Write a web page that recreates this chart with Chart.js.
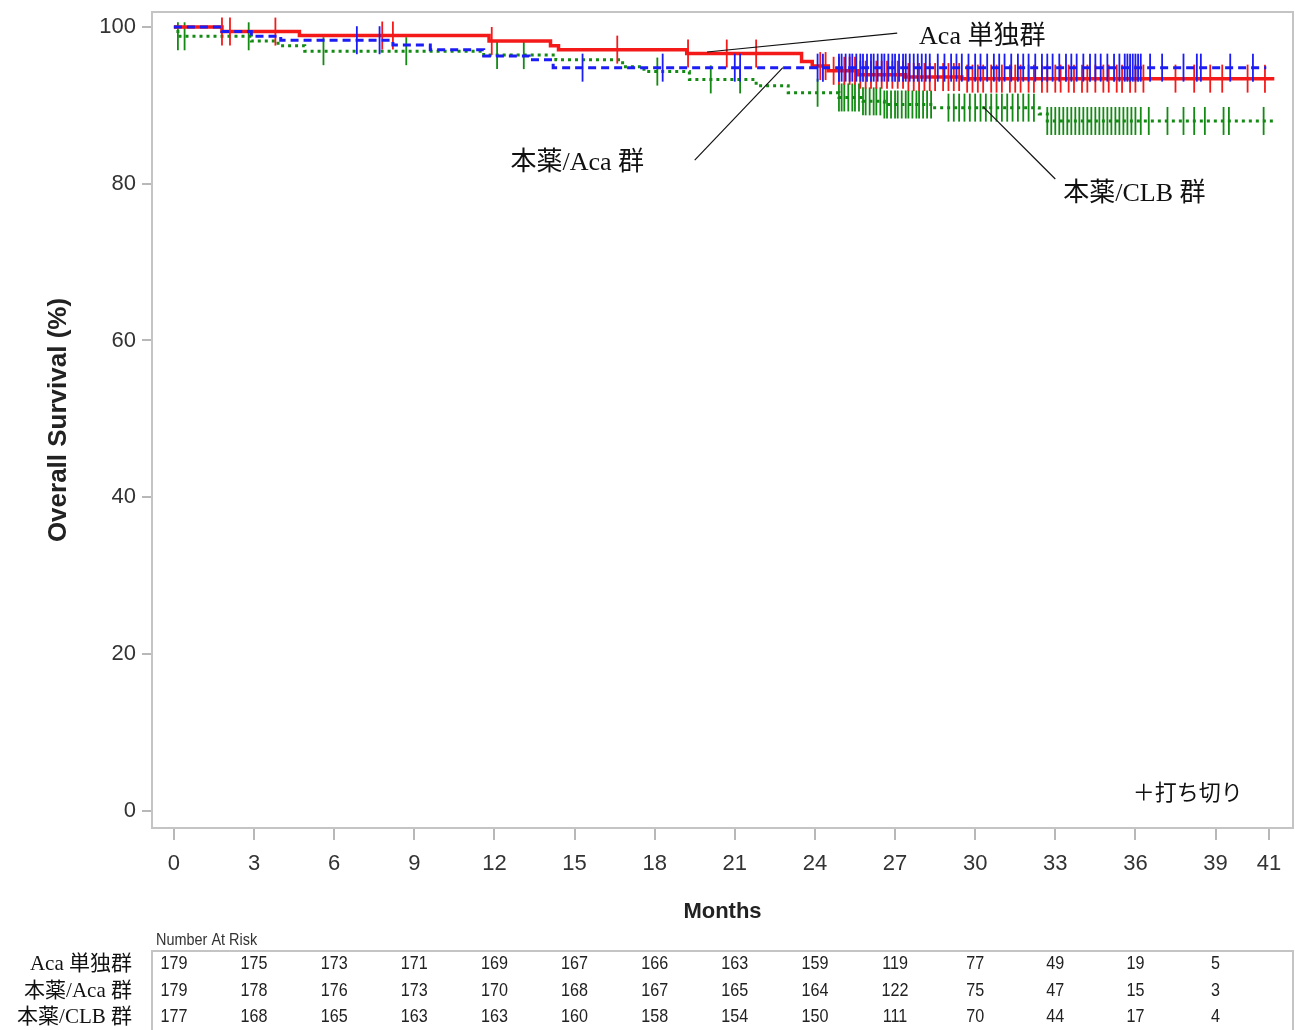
<!DOCTYPE html>
<html>
<head>
<meta charset="utf-8">
<script src="https://cdn.jsdelivr.net/npm/chart.js@4.4.1/dist/chart.umd.min.js"></script>
<style>
  html,body{margin:0;padding:0;background:#fff;overflow:hidden}
  #wrap{width:1295px;height:1030px;position:relative}
</style>
</head>
<body>
<div id="wrap"><canvas id="km"></canvas></div>
<script>
// --- données ---
const monthTicks = [0,3,6,9,12,15,18,21,24,27,30,33,36,39,41];
const survTicks = [0,20,40,60,80,100];
const riskMonths = [0,3,6,9,12,15,18,21,24,27,30,33,36,39];
const groupNames = ['Aca 単独群','本薬/Aca 群','本薬/CLB 群'];

const riskAca   = [179,175,173,171,169,167,166,163,159,119,77,49,19,5];
const riskCombo = [179,178,176,173,170,168,167,165,164,122,75,47,15,3];
const riskClb   = [177,168,165,163,163,160,158,154,150,111,70,44,17,4];

// courbes KM : temps (mois) / survie (%)
const acaTimes   = [0,1.8,4.7,11.8,14.1,14.4,19.2,23.5,23.9,24.5,25.6,27.4,29.5,41.2];
const acaSurv    = [100,99.4,98.9,98.2,97.6,97.1,96.6,95.6,95.0,94.4,93.9,93.6,93.4,93.4];
const comboTimes = [0,1.8,2.9,4.0,8.2,9.6,11.6,13.3,14.2,40.9];
const comboSurv  = [100,99.4,98.8,98.3,97.7,97.1,96.3,95.8,94.8,94.8];
const clbTimes   = [0,0.15,2.9,3.9,4.9,11.6,14.3,16.8,17.6,19.3,21.8,23.0,24.9,25.8,26.6,28.4,32.4,32.7,41.2];
const clbSurv    = [100,98.8,98.2,97.6,96.9,96.4,95.8,94.9,94.3,93.3,92.5,91.6,91.0,90.5,90.1,89.7,88.9,88.0,88.0];

// censures (mois)
const acaCensor = [1.8,2.1,3.8,7.8,8.2,11.9,16.6,19.25,20.7,21.8,24.2,24.4,24.7,24.9,25.1,25.3,25.5,25.7,25.9,26.1,26.3,26.5,26.7,26.9,27.1,27.3,27.5,27.7,27.9,28.1,28.3,28.5,28.8,29.0,29.2,29.4,29.7,29.9,30.1,30.3,30.6,30.8,31.0,31.3,31.5,31.7,32.0,32.2,32.5,32.7,33.0,33.2,33.5,33.7,34.0,34.2,34.5,34.8,35.0,35.3,35.5,35.8,36.0,36.3,37.5,38.2,38.8,39.25,40.2,40.85];
const comboCensor = [6.85,7.7,15.3,18.3,21.0,21.2,24.1,24.3,24.9,25.0,25.15,25.3,25.4,25.55,25.7,25.8,25.95,26.1,26.2,26.35,26.5,26.6,26.75,26.9,27.0,27.15,27.3,27.4,27.55,27.7,27.85,28.0,28.15,28.3,28.6,28.85,29.1,29.3,29.5,29.75,30.0,30.2,30.45,30.7,30.9,31.1,31.35,31.6,31.8,32.0,32.25,32.5,32.7,32.9,33.15,33.4,33.6,33.8,34.05,34.3,34.5,34.7,34.95,35.2,35.4,35.6,35.7,35.8,35.9,36.0,36.1,36.2,36.55,37.0,37.8,38.3,38.45,39.55,40.4];
const clbCensor = [0.15,0.4,2.8,5.6,8.7,12.1,13.1,18.1,20.1,21.2,24.1,24.9,25.0,25.1,25.25,25.4,25.5,25.65,25.8,25.9,26.05,26.2,26.3,26.45,26.6,26.7,26.85,27.0,27.1,27.25,27.4,27.5,27.65,27.8,27.9,28.05,28.2,28.35,29.0,29.2,29.4,29.6,29.8,30.0,30.2,30.4,30.6,30.8,31.0,31.2,31.4,31.6,31.8,32.0,32.2,32.7,32.85,33.0,33.15,33.3,33.45,33.6,33.75,33.9,34.05,34.2,34.35,34.5,34.65,34.8,34.95,35.1,35.25,35.4,35.55,35.7,35.85,36.0,36.2,36.5,37.2,37.8,38.2,38.6,39.3,39.5,40.8];

const RED = '#f41a1a', BLUE = '#1c1cf4', GREEN = '#138a13';
const SANS = '"Liberation Sans", Arial, sans-serif';
const SERIF = '"Liberation Serif", "Noto Sans CJK JP", serif';
const JP = '"Noto Sans CJK JP", sans-serif';

const toPts = (ts, ss) => ts.map((t,i)=>({x:t, y:ss[i]}));
function survAt(ts, ss, t){ let v = ss[0]; for(let i=0;i<ts.length;i++){ if(ts[i] <= t) v = ss[i]; } return v; }
const censorPts = (cs, ts, ss) => cs.map(t=>({x:t, y:survAt(ts, ss, t)}));

const curve = (pts, color, w, dash) => ({ data:pts, borderColor:color, borderWidth:w, borderDash:dash, stepped:true, pointRadius:0, fill:false, borderCapStyle:'butt' });
const marks = (pts, color) => ({ data:pts, showLine:false, pointStyle:'line', rotation:90, pointRadius:14, pointBorderWidth:1.8, pointBorderColor:color, pointBackgroundColor:color, borderColor:color });

function narrow(ctx, s, px, py, sx){ ctx.save(); ctx.translate(px,py); ctx.scale(sx,1); ctx.fillText(s,0,0); ctx.restore(); }
const noPad = s => { s.paddingLeft = 0; s.paddingRight = 0; s.paddingTop = 0; s.paddingBottom = 0; };

const overlay = {
  id:'overlay',
  beforeDatasetsDraw(chart){
    const {ctx, chartArea:a} = chart;
    ctx.save();
    ctx.strokeStyle = '#c4c4c4'; ctx.lineWidth = 2;
    ctx.strokeRect(a.left, a.top, a.right-a.left, a.bottom-a.top);
    ctx.restore();
  },
  afterDraw(chart){
    const {ctx, chartArea:a, scales:{x, y}} = chart;
    ctx.save();
    // étiquettes + traits de rappel
    const notes = [
      {text:'Aca 単独群', t:27.9, s:98.7, from:[19.96,96.8], to:[27.08,99.2]},
      {text:'本薬/Aca 群', t:12.6, s:82.6, from:[19.5,83.0], to:[22.8,94.8]},
      {text:'本薬/CLB 群', t:33.3, s:78.6, from:[30.3,89.8], to:[33.0,80.6]}
    ];
    ctx.strokeStyle = '#111'; ctx.lineWidth = 1.2;
    ctx.fillStyle = '#111'; ctx.textBaseline = 'middle'; ctx.textAlign = 'left';
    ctx.font = '26px ' + SERIF;
    notes.forEach(n=>{
      ctx.beginPath();
      ctx.moveTo(x.getPixelForValue(n.from[0]), y.getPixelForValue(n.from[1]));
      ctx.lineTo(x.getPixelForValue(n.to[0]), y.getPixelForValue(n.to[1]));
      ctx.stroke();
      ctx.fillText(n.text, x.getPixelForValue(n.t), y.getPixelForValue(n.s));
    });
    ctx.font = '22px ' + JP;
    ctx.fillText('＋打ち切り', x.getPixelForValue(35.9), y.getPixelForValue(2.4));

    // Number at risk
    ctx.fillStyle = '#333';
    ctx.font = '17px ' + SANS;
    narrow(ctx, 'Number At Risk', a.left + 4, 940, 0.85);
    ctx.strokeStyle = '#c4c4c4'; ctx.lineWidth = 2;
    ctx.beginPath();
    ctx.moveTo(a.left, 1032); ctx.lineTo(a.left, 951); ctx.lineTo(a.right, 951); ctx.lineTo(a.right, 1032);
    ctx.stroke();
    const rows = [riskAca, riskCombo, riskClb];
    const rowY = [964, 991, 1017];
    rows.forEach((r, i)=>{
      ctx.fillStyle = '#111'; ctx.textAlign = 'right';
      ctx.font = '21px ' + SERIF;
      ctx.fillText(groupNames[i], 132, rowY[i]);
      ctx.fillStyle = '#222'; ctx.textAlign = 'center';
      ctx.font = '19px ' + SANS;
      r.forEach((v, j)=> narrow(ctx, String(v), x.getPixelForValue(riskMonths[j]), rowY[i], 0.85));
    });
    ctx.restore();
  }
};

new Chart(document.getElementById('km'), {
  type:'line',
  data:{ datasets:[
    marks(censorPts(comboCensor, comboTimes, comboSurv), BLUE),
    curve(toPts(comboTimes, comboSurv), BLUE, 3, [8,5]),
    marks(censorPts(acaCensor, acaTimes, acaSurv), RED),
    curve(toPts(acaTimes, acaSurv), RED, 3.5, []),
    marks(censorPts(clbCensor, clbTimes, clbSurv), GREEN),
    curve(toPts(clbTimes, clbSurv), GREEN, 3, [3,4])
  ]},
  options:{
    responsive:true, maintainAspectRatio:false, animation:false,
    layout:{ autoPadding:false, padding:{left:0, right:2, top:12, bottom:102} },
    plugins:{ legend:{display:false}, tooltip:{enabled:false} },
    scales:{
      x:{
        type:'linear', min:-0.82, max:41.9,
        afterBuildTicks: s => { s.ticks = monthTicks.map(v=>({value:v})); },
        afterFit: s => { s.height = 100; noPad(s); },
        border:{display:false},
        grid:{drawOnChartArea:false, drawTicks:true, tickLength:12, color:'#b8b8b8', lineWidth:2},
        ticks:{color:'#333', font:{family:SANS, size:22}, padding:11, maxRotation:0, autoSkip:false},
        title:{display:true, text:'Months', color:'#222', font:{family:SANS, size:22, weight:'bold'}, padding:{top:0, bottom:3}}
      },
      y:{
        min:-2.2, max:101.9,
        afterBuildTicks: s => { s.ticks = survTicks.map(v=>({value:v})); },
        afterFit: s => { s.width = 152; noPad(s); },
        border:{display:false},
        grid:{drawOnChartArea:false, drawTicks:true, tickLength:10, color:'#b8b8b8', lineWidth:2},
        ticks:{color:'#333', font:{family:SANS, size:22}, padding:6},
        title:{display:true, text:'Overall Survival (%)', color:'#222', font:{family:SANS, size:26, weight:'bold'}, padding:{top:43, bottom:0}}
      }
    }
  },
  plugins:[overlay]
});
</script>
</body>
</html>
